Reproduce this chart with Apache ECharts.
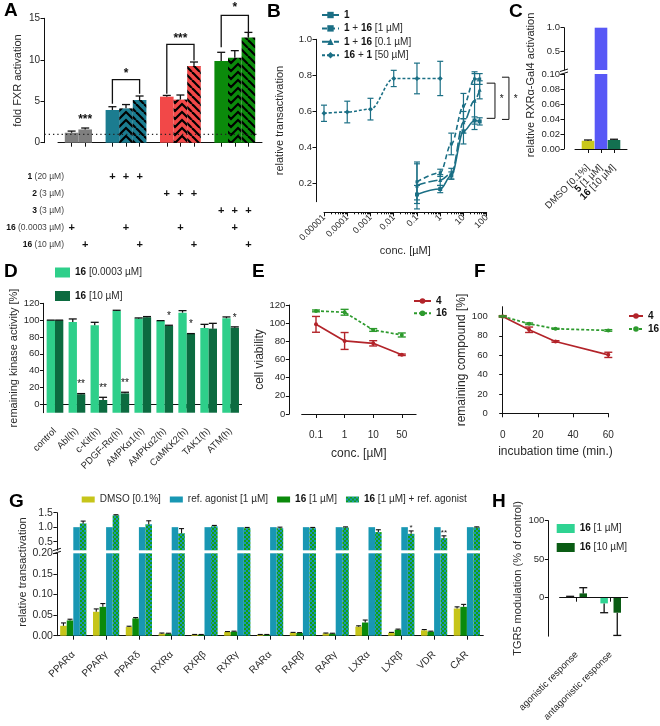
<!DOCTYPE html>
<html><head><meta charset="utf-8">
<script src="https://cdn.jsdelivr.net/npm/echarts@6/dist/echarts.min.js"></script>
<style>html,body{margin:0;padding:0;background:#fff}#c{width:660px;height:726px}</style>
</head><body><div id="c"></div>
<script>
// ================= DATA =================
// Panel A (slots: gaps are empty)
const aSlotLabels = ['', 'a1', 'a2', '', 'b1', 'b2', 'b3', '', 'c1', 'c2', 'c3', '', 'd1', 'd2', 'd3', ''];
const aValues = [null, 1.2, 1.6, null, 3.94, 4.14, 5.15, null, 5.55, 5.2, 9.25, null, 9.86, 10.25, 12.67, null];
const aErrTop = [null, 1.4, 1.77, null, 4.34, 4.6, 5.63, null, 5.7, 5.75, 9.73, null, 10.9, 11.1, 13.3, null];
const aGroup = [null, 0, 0, null, 1, 1, 1, null, 2, 2, 2, null, 3, 3, 3, null];
const aHatch = [null, 0, 0, null, 0, 1, 2, null, 0, 1, 2, null, 0, 1, 2, null];
const aRowBold = ['1', '2', '3', '16', '16'];
const aRowConc = ['(20 µM)', '(3 µM)', '(3 µM)', '(0.0003 µM)', '(10 µM)'];
const aPlus = [[4,0],[5,0],[6,0],[8,1],[9,1],[10,1],[12,2],[13,2],[14,2],[1,3],[5,3],[9,3],[13,3],[2,4],[6,4],[10,4],[14,4]];
const aBrackets = [[4, 6, 7.6, 4.7, 5.9], [8, 10, 11.85, 5.9, 9.9], [12, 14, 15.36, 11.5, 12.7]];
const aStars = [[2, 2.75, '***'], [5, 8.3, '*'], [9, 12.6, '***'], [13, 16.25, '*']];
const aBaseline = 1;

// Panel B
const bLegend = ['1', '1 + 16 [1 µM]', '1 + 16 [0.1 µM]', '16 + 1 [50 µM]'];
const bConc = [0.1, 1, 3, 10, 30, 50];
const bY1 = [0.14, 0.17, 0.245, 0.49, 0.55, 0.545];
const bE1 = [0.05, 0.02, 0.02, 0.07, 0.02, 0.02];
const bY2 = [0.21, 0.26, 0.42, 0.63, 0.78, 0.78];
const bE2 = [0.1, 0.02, 0.06, 0.07, 0.03, 0.03];
const bY3 = [0.19, 0.22, 0.255, 0.54, 0.66, 0.72];
const bE3 = [0.13, 0.03, 0.03, 0.06, 0.16, 0.05];
const bConc50 = [0.00001, 0.0001, 0.001, 0.01, 0.1, 1];
const bY4 = [0.59, 0.597, 0.613, 0.783, 0.783, 0.783];
const bE4 = [0.045, 0.06, 0.06, 0.045, 0.085, 0.095];
const bTicks = [0.00001, 0.0001, 0.001, 0.01, 0.1, 1, 10, 100];
const bTickLabels = ['0.00001', '0.0001', '0.001', '0.01', '0.1', '1', '10', '100'];
const bYTicks = [0.2, 0.4, 0.6, 0.8, 1.0];
const bBrackets = [[100, 227, 0.757, 0.562], [454, 906, 0.79, 0.556]];
const bStars = [[440, 0.668, '*'], [1755, 0.668, '*']];

// Panel C
const cCats = ['DMSO [0.1%]', '5 [1 µM]', '16 [10 µM]'];
const cValues = [0.011, 1.0, 0.012];
const cErrTop = [0.012, null, 0.013];

// Panel D
const dLegend = ['16 [0.0003 µM]', '16 [10 µM]'];
const dCats = ['control', 'Abl(h)', 'c-Kit(h)', 'PDGF-Rα(h)', 'AMPKα1(h)', 'AMPKα2(h)', 'CaMKK2(h)', 'TAK1(h)', 'ATM(h)'];
const dLow = [100, 97.8, 93.9, 110.9, 101.8, 99, 108.9, 90.7, 102.2];
const dLowErr = [100, 101.4, 97.4, 111.7, 102.6, 99.4, 111.3, 95, 103.8];
const dHigh = [100, 11.9, 5.1, 13, 103.4, 93, 83.6, 89.9, 91];
const dHighErr = [100, 12.7, 8.3, 14.3, 104.2, 93.9, 84, 96.2, 92];
const dStars = ['', '**', '**', '**', '', '*', '*', '', '*'];

// Panel E
const eLegend = ['4', '16'];
const eCats = ['0.1', '1', '10', '50'];
const e4 = [98.7, 80.4, 77.8, 65.2];
const e4Err = [8.7, 9.3, 2.9, 0.8];
const e16 = [113.5, 112, 92.5, 87];
const e16Err = [1, 3.2, 1.5, 2.2];

// Panel F
const fTime = [0, 15, 30, 60];
const f4 = [100, 86.2, 74.1, 60.3];
const f4Err = [0.8, 2.8, 0.8, 2.7];
const f16 = [100, 92.4, 87.2, 85.5];
const f16Err = [0.5, 0.8, 0.5, 0.8];

// Panel G
const gLegend = ['DMSO [0.1%]', 'ref. agonist [1 µM]', '16 [1 µM]', '16 [1 µM] + ref. agonist'];
const gCats = ['PPARα', 'PPARγ', 'PPARδ', 'RXRα', 'RXRβ', 'RXRγ', 'RARα', 'RARβ', 'RARγ', 'LXRα', 'LXRβ', 'VDR', 'CAR'];
const gDmso = [0.024, 0.058, 0.021, 0.005, 0.0025, 0.009, 0.0025, 0.007, 0.0055, 0.022, 0.007, 0.013, 0.066];
const gDmsoErr = [0.031, 0.065, 0.023, 0.0065, 0.003, 0.010, 0.003, 0.008, 0.0065, 0.024, 0.008, 0.015, 0.070];
const g16 = [0.037, 0.070, 0.042, 0.005, 0.0025, 0.0097, 0.0025, 0.0065, 0.005, 0.032, 0.0145, 0.0097, 0.070];
const g16Err = [0.040, 0.078, 0.044, 0.006, 0.003, 0.011, 0.003, 0.0075, 0.006, 0.038, 0.016, 0.011, 0.076];
const gRef = [1, 1, 1, 1, 1, 1, 1, 1, 1, 1, 1, 1, 1];
const gCombo = [1.13, 1.41, 1.1, 0.79, 1.03, 0.965, 0.965, 0.965, 0.99, 0.83, 0.77, 0.62, 0.99];
const gComboErr = [1.21, 1.43, 1.22, 0.95, 1.06, 0.99, 1.0, 0.99, 1.01, 0.91, 0.87, 0.70, 1.01];
const gStars = ['', '', '', '', '', '', '', '', '', '', '*', '**', ''];

// Panel H
const hLegend = ['16 [1 µM]', '16 [10 µM]'];
const hCats = ['agonistic response', 'antagonistic response'];
const h1 = [1, -7.4];
const h1Err = [1.8, -19.5];
const h10 = [5.6, -19.5];
const h10Err = [13, -49];

// ================= STYLE HELPERS =================
const FONT = "'Liberation Sans Narrow', 'Liberation Sans', Arial, sans-serif";
const T = '#2a2a2a', K = '#111';
const LBL = {color: T, fontSize: 9.5, fontFamily: FONT, margin: 4, hideOverlap: false};
const NAME = {color: T, fontSize: 11, fontFamily: FONT};
const RICH = {b: {fontWeight: 'bold', color: '#111', fontFamily: FONT, fontSize: 10}};
function richify(s) {
  const k = s.indexOf('[');
  const head = k < 0 ? s : s.slice(0, k), rest = k < 0 ? '' : s.slice(k);
  return head.replace(/\d+/g, m => '{b|' + m + '}') + rest;
}
const axLine = () => ({show: true, lineStyle: {color: K, width: 1}});
const axTick = (o) => Object.assign({show: true, length: 3.5, lineStyle: {color: K, width: 1}}, o || {});
const lbl = (o) => Object.assign({}, LBL, o || {});

function hatch(bg, kind) {
  const c = document.createElement('canvas');
  const g = c.getContext('2d');
  if (kind === 1) {
    c.width = 14; c.height = 8;
    g.fillStyle = bg; g.fillRect(0, 0, 14, 8);
    g.strokeStyle = '#000'; g.lineWidth = 2.2;
    for (const dy of [-8, 0, 8]) {
      g.beginPath(); g.moveTo(-7, dy + 7); g.lineTo(0, dy); g.lineTo(7, dy + 7); g.lineTo(14, dy); g.lineTo(21, dy + 7); g.stroke();
    }
  } else if (kind === 2) {
    c.width = 8; c.height = 8;
    g.fillStyle = bg; g.fillRect(0, 0, 8, 8);
    g.strokeStyle = '#000'; g.lineWidth = 2.2;
    for (const dx of [-8, 0, 8]) { g.beginPath(); g.moveTo(dx, 0); g.lineTo(dx + 8, 8); g.stroke(); }
  } else {
    c.width = 4; c.height = 4;
    g.fillStyle = '#1897b3'; g.fillRect(0, 0, 4, 4);
    g.fillStyle = '#12a012'; g.fillRect(0, 0, 2, 2); g.fillRect(2, 2, 2, 2);
  }
  return {image: c, repeat: 'repeat'};
}

function errSeries(xi, yi, data, o) {
  o = Object.assign({color: '#111', cap: 3.5, lw: 1.2, both: false, dx: null}, o);
  return {type: 'custom', xAxisIndex: xi, yAxisIndex: yi, silent: true, z: 4, clip: false, data,
    renderItem(params, api) {
      const x = api.value(0), a = api.value(1), b = api.value(2);
      const p1 = api.coord([x, a]), p2 = api.coord([x, b]);
      let cx = p1[0];
      if (o.dx) cx += o.dx(api.size([1, 0])[0]);
      const st = {stroke: o.color, lineWidth: o.lw};
      const ch = [
        {type: 'line', shape: {x1: cx, y1: p1[1], x2: cx, y2: p2[1]}, style: st},
        {type: 'line', shape: {x1: cx - o.cap, y1: p2[1], x2: cx + o.cap, y2: p2[1]}, style: st}];
      if (o.both) ch.push({type: 'line', shape: {x1: cx - o.cap, y1: p1[1], x2: cx + o.cap, y2: p1[1]}, style: st});
      return {type: 'group', children: ch};
    }};
}
function textSeries(xi, yi, items, st, o) {
  o = o || {};
  items = items.filter(d => d[2]);
  return {type: 'custom', xAxisIndex: xi, yAxisIndex: yi, silent: true, z: 6, clip: false,
    data: items.map(d => [d[0], d[1]]),
    renderItem(params, api) {
      const p = api.coord([api.value(0), api.value(1)]);
      let cx = p[0];
      if (o.dx) cx += o.dx(api.size([1, 0])[0]);
      return {type: 'text', x: cx, y: p[1] + (o.dy || 0),
        style: Object.assign({text: items[params.dataIndex][2], align: 'center', verticalAlign: 'middle',
          fill: '#111', fontFamily: FONT, fontSize: 11}, st || {})};
    }};
}
function breakMark(xi, yi, axisOffset) {
  return {type: 'custom', xAxisIndex: xi, yAxisIndex: yi, silent: true, clip: false, z: 10, data: [[0, 0]],
    renderItem(params) {
      const cs = params.coordSys; const ax = cs.x - axisOffset, y = cs.y - 2;
      const st = {stroke: '#111', lineWidth: 1};
      return {type: 'group', children: [
        {type: 'line', shape: {x1: ax - 4, y1: y - 0.5, x2: ax + 4, y2: y - 3}, style: st},
        {type: 'line', shape: {x1: ax - 4, y1: y + 2.5, x2: ax + 4, y2: y}, style: st}]};
    }};
}
const slotDx = (slot, n, gap) => band => { const inner = band * (1 - gap), bw = inner / n; return -inner / 2 + bw * (slot + 0.5); };

// ================= COLORS =================
const aColors = ['#7f7f7f', '#1b7c90', '#f24848', '#0b8a0b'];
const bColor = '#1b6f85';
const cColors = ['#c9c81b', '#5858f6', '#137050'];
const dColors = ['#2ecf8a', '#0c6b40'];
const eColors = ['#b3242a', '#2d9a2d'];
const gColors = ['#c6c51a', '#1897b3', '#0b8a0b'];
const hColors = ['#2fd392', '#0a5c14'];
const gCheck = hatch(null, 3);

// ================= AXES =================
const cSlots = [''].concat(cCats, ['']);
const bMinor = [];
for (let e = -5; e <= 1; e++) for (let k = 2; k <= 9; k++) bMinor.push(k * Math.pow(10, e));
const tableRows = aRowBold.map((b, i) => String(i));

const grids = [
  {left: 58, top: 18.3, width: 204, height: 124.4},     // 0 A
  {left: 58, top: 168.5, width: 204, height: 84.5},     // 1 A table
  {left: 324, top: 39.3, width: 162.7, height: 162.4},  // 2 B
  {left: 575, top: 27.7, width: 52, height: 42.3},      // 3 C upper
  {left: 575, top: 74, width: 52, height: 75},          // 4 C lower
  {left: 44, top: 303.3, width: 197.6, height: 109.4},  // 5 D
  {left: 301.7, top: 305, width: 114.4, height: 109},   // 6 E
  {left: 502.7, top: 306.7, width: 105.6, height: 106.6}, // 7 F
  {left: 56.9, top: 512.7, width: 426.4, height: 37.6}, // 8 G upper
  {left: 56.9, top: 553.3, width: 426.4, height: 82.4}, // 9 G lower
  {left: 559.7, top: 520.7, width: 68, height: 115.5}   // 10 H
].map(g => Object.assign({containLabel: false, outerBoundsMode: 'none'}, g));

const xAxis = [
  {type: 'category', gridIndex: 0, data: aSlotLabels, boundaryGap: false, offset: 15.3, axisLine: axLine(),
    axisTick: axTick({length: 4, interval: (i) => aValues[i] != null}), axisLabel: {show: false}},
  {type: 'category', gridIndex: 1, data: aSlotLabels, boundaryGap: false, show: false},
  {type: 'log', gridIndex: 2, min: 0.00001, max: 100, logBase: 10, offset: 10.6, axisLine: axLine(),
    axisTick: axTick({length: 4, customValues: bTicks}),
    axisLabel: lbl({customValues: bTicks, rotate: 45, fontSize: 9,
      formatter: v => bTickLabels[Math.round(Math.log10(v)) + 5]}),
    splitLine: {show: false}, name: 'conc. [µM]', nameLocation: 'middle', nameGap: 33, nameTextStyle: NAME},
  {type: 'log', gridIndex: 2, min: 0.00001, max: 100, logBase: 10, offset: 10.6, position: 'bottom',
    axisLine: {show: false}, axisTick: axTick({length: 2, customValues: bMinor}), axisLabel: {show: false}, splitLine: {show: false}},
  {type: 'category', gridIndex: 3, data: cSlots, boundaryGap: false, show: false},
  {type: 'category', gridIndex: 4, data: cSlots, boundaryGap: false, offset: 13.3, axisLine: axLine(),
    axisTick: axTick({length: 4, interval: (i) => i >= 1 && i <= cCats.length}),
    axisLabel: lbl({interval: 0, rotate: 45, fontSize: 9.5, hideOverlap: false, showMinLabel: true, showMaxLabel: true,
      formatter: v => v ? richify(v) : '', rich: RICH})},
  {type: 'category', gridIndex: 5, data: dCats, offset: 13, axisLine: axLine(), axisTick: axTick({length: 4, alignWithLabel: true}),
    axisLabel: lbl({rotate: 45, interval: 0, fontSize: 9.5})},
  {type: 'category', gridIndex: 6, data: eCats, offset: 12, axisLine: axLine(), axisTick: axTick({length: 4, alignWithLabel: true}),
    axisLabel: lbl({fontSize: 10}), name: 'conc. [µM]', nameLocation: 'middle', nameGap: 22, nameTextStyle: Object.assign({}, NAME, {fontSize: 12})},
  {type: 'value', gridIndex: 7, min: 0, max: 60, interval: 20, offset: 12.7, axisLine: axLine(), axisTick: axTick({length: 4}),
    axisLabel: lbl({fontSize: 10}), splitLine: {show: false},
    name: 'incubation time (min.)', nameLocation: 'middle', nameGap: 20, nameTextStyle: Object.assign({}, NAME, {fontSize: 12})},
  {type: 'category', gridIndex: 8, data: gCats, show: false},
  {type: 'category', gridIndex: 9, data: gCats, offset: 13.3, axisLine: axLine(), axisTick: axTick({length: 4, alignWithLabel: true}),
    axisLabel: lbl({rotate: 45, interval: 0, fontSize: 10})},
  {type: 'category', gridIndex: 10, data: hCats, offset: 13, axisLine: axLine(), axisTick: axTick({length: 4, alignWithLabel: true}),
    axisLabel: lbl({rotate: 45, interval: 0, fontSize: 9.5})}
];

const yAxis = [
  {type: 'value', gridIndex: 0, min: 0, max: 15, interval: 5, offset: 14, axisLine: axLine(), axisTick: axTick(),
    axisLabel: lbl({fontSize: 10}), splitLine: {show: false}, name: 'fold FXR activation', nameLocation: 'middle', nameGap: 21, nameTextStyle: NAME},
  {type: 'category', gridIndex: 1, data: tableRows, inverse: true, offset: -6, axisLine: {show: false}, axisTick: {show: false},
    axisLabel: {margin: 0, fontFamily: FONT, fontSize: 8.5, color: '#444',
      formatter: (v, i) => '{b|' + aRowBold[i] + '} ' + aRowConc[i],
      rich: {b: {fontWeight: 'bold', color: '#111', fontSize: 8.5, fontFamily: FONT}}}},
  {type: 'value', gridIndex: 2, min: 0.1, max: 1.0, offset: 8, axisLine: axLine(), axisTick: axTick({customValues: bYTicks}),
    axisLabel: lbl({customValues: bYTicks, formatter: v => v.toFixed(1)}), splitLine: {show: false},
    name: 'relative transactivation', nameLocation: 'middle', nameGap: 31, nameTextStyle: NAME},
  {type: 'value', gridIndex: 3, min: 0.1, max: 1.0, offset: 11, axisLine: axLine(), axisTick: axTick({customValues: [0.5, 1.0]}),
    axisLabel: lbl({customValues: [0.5, 1.0], formatter: v => v.toFixed(1)}), splitLine: {show: false}},
  {type: 'value', gridIndex: 4, min: 0, max: 0.1, interval: 0.02, offset: 11, axisLine: axLine(), axisTick: axTick(),
    axisLabel: lbl({formatter: v => v.toFixed(2)}), splitLine: {show: false}},
  {type: 'value', gridIndex: 5, min: -10, max: 120, offset: 0.5, axisLine: axLine(),
    axisTick: axTick({customValues: [0, 20, 40, 60, 80, 100, 120]}),
    axisLabel: lbl({customValues: [0, 20, 40, 60, 80, 100, 120]}), splitLine: {show: false},
    name: 'remaining kinase activity [%]', nameLocation: 'middle', nameGap: 21, nameTextStyle: NAME},
  {type: 'value', gridIndex: 6, min: 0, max: 120, interval: 20, offset: 12.4, axisLine: axLine(), axisTick: axTick(),
    axisLabel: lbl(), splitLine: {show: false}, name: 'cell viability', nameLocation: 'middle', nameGap: 23, nameTextStyle: Object.assign({}, NAME, {fontSize: 12})},
  {type: 'value', gridIndex: 7, min: 0, max: 110, offset: 11, axisLine: axLine(),
    axisTick: axTick({customValues: [0, 20, 40, 60, 80, 100]}), axisLabel: lbl({customValues: [0, 20, 40, 60, 80, 100]}),
    splitLine: {show: false}, name: 'remaining compound [%]', nameLocation: 'middle', nameGap: 21, nameTextStyle: Object.assign({}, NAME, {fontSize: 12})},
  {type: 'value', gridIndex: 8, min: 0.2, max: 1.5, offset: 0, axisLine: axLine(), axisTick: axTick({customValues: [0.5, 1.0, 1.5]}),
    axisLabel: lbl({customValues: [0.5, 1.0, 1.5], formatter: v => v.toFixed(1), fontSize: 10.5}), splitLine: {show: false}},
  {type: 'value', gridIndex: 9, min: 0, max: 0.2, interval: 0.05, offset: 0, axisLine: axLine(), axisTick: axTick(),
    axisLabel: lbl({formatter: v => v.toFixed(2), fontSize: 10.5}), splitLine: {show: false}},
  {type: 'value', gridIndex: 10, min: -50, max: 100, offset: 11.4, axisLine: axLine(), axisTick: axTick({customValues: [0, 50, 100]}),
    axisLabel: lbl({customValues: [0, 50, 100]}), splitLine: {show: false},
    name: 'TGR5 modulation (% of control)', nameLocation: 'middle', nameGap: 25, nameTextStyle: NAME}
];

// ================= SERIES =================
const series = [];
// ---- A
series.push({type: 'bar', xAxisIndex: 0, yAxisIndex: 0, barWidth: 13.6, silent: true,
  data: aValues.map((v, i) => v == null ? '-' : {value: v,
    itemStyle: {color: aHatch[i] ? hatch(aColors[aGroup[i]], aHatch[i]) : aColors[aGroup[i]]}})});
series.push(errSeries(0, 0, aValues.map((v, i) => [i, v, aErrTop[i]]).filter(d => d[1] != null), {cap: 4, lw: 1.3}));
series.push({type: 'custom', xAxisIndex: 0, yAxisIndex: 0, silent: true, clip: false, z: 3, data: [[0, aBaseline]],
  renderItem(params, api) {
    const band = api.size([1, 0])[0];
    const p1 = api.coord([0, aBaseline]), p2 = api.coord([aSlotLabels.length - 1, aBaseline]);
    return {type: 'line', shape: {x1: p1[0] - band, y1: p1[1], x2: p2[0] - 3, y2: p2[1]},
      style: {stroke: '#222', lineWidth: 1.3, lineDash: [1.3, 3]}};
  }});
series.push({type: 'custom', xAxisIndex: 0, yAxisIndex: 0, silent: true, clip: false, z: 5, data: aBrackets,
  renderItem(params, api) {
    const x1 = api.value(0), x2 = api.value(1), yt = api.value(2), y1 = api.value(3), y2 = api.value(4);
    return {type: 'polyline', shape: {points: [api.coord([x1, y1]), api.coord([x1, yt]), api.coord([x2, yt]), api.coord([x2, y2])]},
      style: {stroke: '#111', lineWidth: 1.3, fill: null}};
  }});
series.push(textSeries(0, 0, aStars, {fontSize: 12, fontWeight: 'bold'}));
series.push(textSeries(1, 1, aPlus.map(p => [p[0], p[1], '+']), {fontSize: 11, fontWeight: 'bold'}));

// ---- B
const bSets = [
  {x: bConc, y: bY1, e: bE1, sym: 'rect', size: 4, type: 'solid'},
  {x: bConc, y: bY2, e: bE2, sym: 'rect', size: 3, type: [5, 3]},
  {x: bConc, y: bY3, e: bE3, sym: 'triangle', size: 4, type: [9, 3]},
  {x: bConc50, y: bY4, e: bE4, sym: 'diamond', size: 5, type: [3, 2]}
];
bSets.forEach((s, k) => {
  series.push({type: 'line', name: 'B' + k, xAxisIndex: 2, yAxisIndex: 2, smooth: 0.35, smoothMonotone: 'x',
    symbol: s.sym, symbolSize: s.size, showAllSymbol: true, color: bColor,
    itemStyle: {color: bColor}, lineStyle: {color: bColor, width: 1.6, type: s.type},
    data: s.x.map((x, i) => [x, s.y[i]])});
  series.push(errSeries(2, 2, s.x.map((x, i) => [x, s.y[i] - s.e[i], s.y[i] + s.e[i]]), {color: bColor, cap: 3, lw: 1.2, both: true}));
});
series.push({type: 'custom', xAxisIndex: 2, yAxisIndex: 2, silent: true, clip: false, z: 5, data: bBrackets,
  renderItem(params, api) {
    const xl = api.value(0), xr = api.value(1), y1 = api.value(2), y2 = api.value(3);
    return {type: 'polyline', shape: {points: [api.coord([xl, y1]), api.coord([xr, y1]), api.coord([xr, y2]), api.coord([xl, y2])]},
      style: {stroke: '#111', lineWidth: 1, fill: null}};
  }});
series.push(textSeries(2, 2, bStars, {fontSize: 10}));

// ---- C
series.push({type: 'bar', xAxisIndex: 4, yAxisIndex: 3, barWidth: 12.6, clip: true, silent: true,
  data: ['-'].concat(cValues.map((v, i) => v > 0.1 ? {value: v, itemStyle: {color: cColors[i]}} : '-'), ['-'])});
series.push({type: 'bar', xAxisIndex: 5, yAxisIndex: 4, barWidth: 12.6, clip: true, silent: true,
  data: ['-'].concat(cValues.map((v, i) => ({value: v, itemStyle: {color: cColors[i]}})), ['-'])});
series.push(errSeries(5, 4, cValues.map((v, i) => [i + 1, v, cErrTop[i]]).filter(d => d[2] != null), {cap: 4, lw: 1.3}));
series.push(breakMark(5, 4, 11));

// ---- D
[dLow, dHigh].forEach((vals, s) => {
  series.push({type: 'custom', name: 'D' + s, xAxisIndex: 6, yAxisIndex: 5, silent: true, z: 2, clip: false,
    itemStyle: {color: dColors[s]},
    data: vals.map((v, i) => [i, v]),
    renderItem(params, api) {
      const i = api.value(0), v = api.value(1);
      const band = api.size([1, 0])[0], bw = band * 0.38;
      const base = api.coord([i, -10]), top = api.coord([i, v]);
      const x = base[0] + (s === 0 ? -bw : 0);
      return {type: 'rect', shape: {x, y: top[1], width: bw, height: base[1] - top[1]}, style: {fill: dColors[s]}};
    }});
});
series.push(errSeries(6, 5, dLow.map((v, i) => [i, v, dLowErr[i]]), {cap: 4, lw: 1.3, dx: b => -b * 0.19}));
series.push(errSeries(6, 5, dHigh.map((v, i) => [i, v, dHighErr[i]]), {cap: 4, lw: 1.3, dx: b => b * 0.19}));
series.push(textSeries(6, 5, dHigh.map((v, i) => [i, dHighErr[i], dStars[i]]), {fontSize: 10, verticalAlign: 'bottom'}, {dx: b => b * 0.19, dy: -4}));

// ---- E
[[e4, e4Err], [e16, e16Err]].forEach((d, s) => {
  series.push({type: 'line', name: 'E' + s, xAxisIndex: 7, yAxisIndex: 6, symbol: 'circle', symbolSize: 4,
    color: eColors[s], itemStyle: {color: eColors[s]},
    lineStyle: {color: eColors[s], width: 1.7, type: s ? [3, 2] : 'solid'}, data: d[0]});
  series.push(errSeries(7, 6, d[0].map((v, i) => [i, v - d[1][i], v + d[1][i]]), {color: eColors[s], cap: 4, lw: 1.4, both: true}));
});

// ---- F
[[f4, f4Err], [f16, f16Err]].forEach((d, s) => {
  series.push({type: 'line', name: 'F' + s, xAxisIndex: 8, yAxisIndex: 7, symbol: 'circle', symbolSize: 4,
    color: eColors[s], itemStyle: {color: eColors[s]},
    lineStyle: {color: eColors[s], width: 1.7, type: s ? [3, 2] : 'solid'}, data: fTime.map((t, i) => [t, d[0][i]])});
  series.push(errSeries(8, 7, fTime.map((t, i) => [t, d[0][i] - d[1][i], d[0][i] + d[1][i]]), {color: eColors[s], cap: 4, lw: 1.4, both: true}));
});

// ---- G (bar order: DMSO, 16, ref, combo)
const gDefs = [
  {name: 'G0', vals: gDmso, color: gColors[0]},
  {name: 'G2', vals: g16, color: gColors[2]},
  {name: 'G1', vals: gRef, color: gColors[1]},
  {name: 'G3', vals: gCombo, color: gCheck}
];
gDefs.forEach(d => {
  series.push({type: 'bar', name: d.name, xAxisIndex: 9, yAxisIndex: 8, barGap: '0%', barCategoryGap: '20%', clip: true, silent: true,
    itemStyle: {color: d.color}, data: d.vals.map(v => v >= 0.2 ? v : '-')});
});
gDefs.forEach(d => {
  series.push({type: 'bar', name: d.name, xAxisIndex: 10, yAxisIndex: 9, barGap: '0%', barCategoryGap: '20%', clip: true, silent: true,
    itemStyle: {color: d.color}, data: d.vals});
});
series.push(errSeries(10, 9, gDmso.map((v, i) => [i, v, gDmsoErr[i]]), {cap: 2.5, lw: 1.1, dx: slotDx(0, 4, 0.2)}));
series.push(errSeries(10, 9, g16.map((v, i) => [i, v, g16Err[i]]), {cap: 2.5, lw: 1.1, dx: slotDx(1, 4, 0.2)}));
series.push(errSeries(9, 8, gCombo.map((v, i) => [i, v, gComboErr[i]]), {cap: 2.5, lw: 1.1, dx: slotDx(3, 4, 0.2)}));
series.push(textSeries(9, 8, gCombo.map((v, i) => [i, gComboErr[i], gStars[i]]), {fontSize: 8, verticalAlign: 'bottom'}, {dx: slotDx(3, 4, 0.2), dy: 1}));
series.push(breakMark(10, 9, 0));

// ---- H
[[h1, h1Err], [h10, h10Err]].forEach((d, s) => {
  const sr = {type: 'bar', name: 'H' + s, xAxisIndex: 11, yAxisIndex: 10, barWidth: 7.5, barGap: '75%', silent: true,
    itemStyle: {color: hColors[s]}, data: d[0]};
  if (s === 0) sr.markLine = {silent: true, symbol: 'none', label: {show: false}, data: [{yAxis: 0}],
    lineStyle: {color: '#111', width: 1.2, type: 'solid'}};
  series.push(sr);
  series.push(errSeries(11, 10, d[0].map((v, i) => [i, v, d[1][i]]), {cap: 4, lw: 1.3, dx: () => (s ? 1 : -1) * 6.56}));
});

// ================= LEGENDS =================
const legText = {};
bLegend.forEach((t, i) => legText['B' + i] = t);
dLegend.forEach((t, i) => legText['D' + i] = t);
eLegend.forEach((t, i) => { legText['E' + i] = t; legText['F' + i] = t; });
gLegend.forEach((t, i) => legText['G' + i] = t);
hLegend.forEach((t, i) => legText['H' + i] = t);
const legBase = (o) => Object.assign({orient: 'vertical', selectedMode: false, padding: 0,
  formatter: n => richify(legText[n]),
  textStyle: {fontSize: 10, color: T, fontFamily: FONT, rich: RICH}}, o);
const legend = [
  legBase({data: ['B0', 'B1', 'B2', 'B3'], left: 321, top: 10, itemWidth: 17, itemHeight: 8, itemGap: 3.4}),
  legBase({data: ['D0', 'D1'], left: 55, top: 267.5, icon: 'rect', itemWidth: 15, itemHeight: 10, itemGap: 13.5}),
  legBase({data: ['E0', 'E1'], left: 413, top: 296, itemWidth: 17, itemHeight: 7, itemGap: 2.3}),
  legBase({data: ['F0', 'F1'], left: 628, top: 311, itemWidth: 14, itemHeight: 7, itemGap: 3}),
  legBase({data: ['G0', 'G1', 'G2', 'G3'], orient: 'horizontal', left: 81.7, top: 494.5, icon: 'rect', itemWidth: 13, itemHeight: 6, itemGap: 9, itemTextGap: 4}),
  legBase({data: ['H0', 'H1'], left: 556.7, top: 523.5, icon: 'rect', itemWidth: 18, itemHeight: 9, itemGap: 9})
];

// ================= TEXT =================
const letter = (t, x, y) => ({type: 'text', x, y, style: {text: t, fontSize: 19, fontWeight: 'bold', fill: '#000',
  fontFamily: "'Liberation Sans', Arial, sans-serif", align: 'left', verticalAlign: 'middle'}});
const vname = (t, x, y) => ({type: 'text', x, y, rotation: Math.PI / 2, style: {text: t, fontSize: 11, fill: T,
  fontFamily: FONT, align: 'center', verticalAlign: 'middle'}});
const graphic = [
  letter('A', 4, 10.5), letter('B', 267, 11.5), letter('C', 509, 12), letter('D', 4, 272),
  letter('E', 252, 271.5), letter('F', 474, 271.5), letter('G', 9, 501.5), letter('H', 492, 501.5),
  vname('relative RXRα-Gal4 activation', 531, 85), vname('relative transactivation', 22.5, 572)
];

const chart = echarts.init(document.getElementById('c'));
chart.setOption({animation: false, backgroundColor: '#fff', textStyle: {fontFamily: FONT},
  grid: grids, xAxis, yAxis, series, legend, graphic});
</script></body></html>
